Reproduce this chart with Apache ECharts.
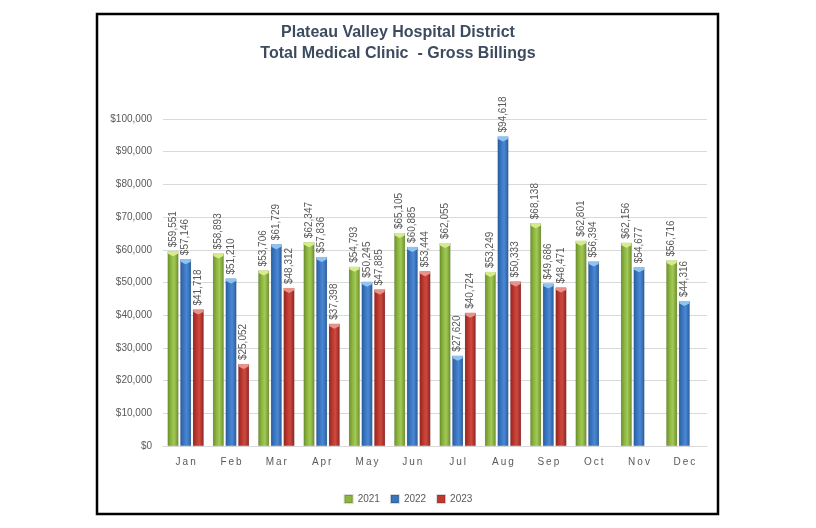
<!DOCTYPE html>
<html><head><meta charset="utf-8">
<script src="https://cdn.jsdelivr.net/npm/echarts@6/dist/echarts.min.js"></script>
<style>html,body{margin:0;padding:0;background:#fff}#c{width:816px;height:528px}</style>
</head><body><div id="c"></div>
<script>
const categories = ['Jan','Feb','Mar','Apr','May','Jun','Jul','Aug','Sep','Oct','Nov','Dec'];
const s2021 = [59551, 58893, 53706, 62347, 54793, 65105, 62055, 53249, 68138, 62801, 62156, 56716];
const s2022 = [57146, 51210, 61729, 57836, 50245, 60885, 27620, 94618, 49686, 56394, 54677, 44316];
const s2023 = [41718, 25052, 48312, 37398, 47885, 53444, 40724, 50333, 48471, null, null, null];
const seriesNames = ['2021','2022','2023'];
const titleLines = ['Plateau Valley Hospital District','Total Medical Clinic  - Gross Billings'];

const fmt = v => '$' + Math.round(v).toLocaleString('en-US');
function grad(dark, mid, light){
  return new echarts.graphic.LinearGradient(0,0,1,0,[
    {offset:0,color:dark},{offset:0.35,color:mid},{offset:0.6,color:light},{offset:1,color:dark}
  ]);
}
const styles = [
  {c: grad('#6a8f2a','#8fb842','#a2c957'), legend:'#8cb63c', top:'#d6ec8c'},
  {c: grad('#2a5b9c','#3a78c4','#4a88d4'), legend:'#3a74bd', top:'#8fc4f2'},
  {c: grad('#8e2422','#c0392f','#cc4a3e'), legend:'#c0392f', top:'#e8928a'}
];
const datas = [s2021, s2022, s2023];
const font = "'Liberation Sans Narrow','Liberation Sans','DejaVu Sans Condensed',sans-serif";

const barSeries = seriesNames.map((n,i)=>({
  name:n, type:'bar', data:datas[i],
  barWidth:11, barGap:'15%', barCategoryGap:'20%',
  itemStyle:{color:styles[i].c, borderColor:'rgba(0,0,0,0.15)', borderWidth:0.5},
  label:{show:true, position:'top', rotate:90, align:'left', verticalAlign:'middle', distance:4,
    color:'#595959', fontFamily:font, fontSize:10, formatter: p => p.value==null?'':fmt(p.value)}
}));
const capSeries = seriesNames.map((n,i)=>({
  name:n+' cap', type:'pictorialBar', data:datas[i],
  barWidth:11, barGap:'15%', barCategoryGap:'20%',
  symbol:'path://M0,0 L10,0 L10,3 L5,6 L0,3 Z', symbolSize:[10,5], symbolPosition:'end',
  symbolOffset:[0,0], itemStyle:{color:styles[i].top}, silent:true, z:3
}));

const chart = echarts.init(document.getElementById('c'), null, {renderer:'canvas'});
chart.setOption({
  animation:false,
  backgroundColor:'#fff',
  grid:{left:163, right:109, top:119, bottom:82, containLabel:false},
  xAxis:{
    type:'category', data:categories,
    axisLine:{lineStyle:{color:'#d9d9d9', width:1}},
    axisTick:{show:false},
    axisLabel:{color:'#595959', fontFamily:font, fontSize:10, margin:11,
      formatter: v => v.split('').join('\u2009')}
  },
  yAxis:{
    type:'value', min:0, max:100000, interval:10000,
    axisLine:{show:false}, axisTick:{show:false},
    splitLine:{lineStyle:{color:'#d9d9d9', width:1}},
    axisLabel:{color:'#595959', fontFamily:font, fontSize:10, margin:11, formatter: v => fmt(v)}
  },
  legend:{
    bottom:19, left:'center', itemWidth:8, itemHeight:8, itemGap:10,
    textStyle:{color:'#595959', fontFamily:font, fontSize:10},
    data: seriesNames.map((n,i)=>({name:n, icon:'rect', itemStyle:{color:styles[i].legend}}))
  },
  series: barSeries.concat(capSeries),
  graphic:[
    {type:'rect', silent:true, shape:{x:97, y:14, width:621, height:500},
      style:{fill:'none', stroke:'#000', lineWidth:2.5}},
    {type:'text', silent:true, x:398, y:33,
      style:{text:titleLines[0], align:'center', verticalAlign:'middle', fill:'#3d4b5f',
        font:"bold 16px 'Liberation Sans Narrow','Liberation Sans',sans-serif"}},
    {type:'text', silent:true, x:398, y:54,
      style:{text:titleLines[1], align:'center', verticalAlign:'middle', fill:'#3d4b5f',
        font:"bold 16px 'Liberation Sans Narrow','Liberation Sans',sans-serif"}}
  ]
});
</script></body></html>
